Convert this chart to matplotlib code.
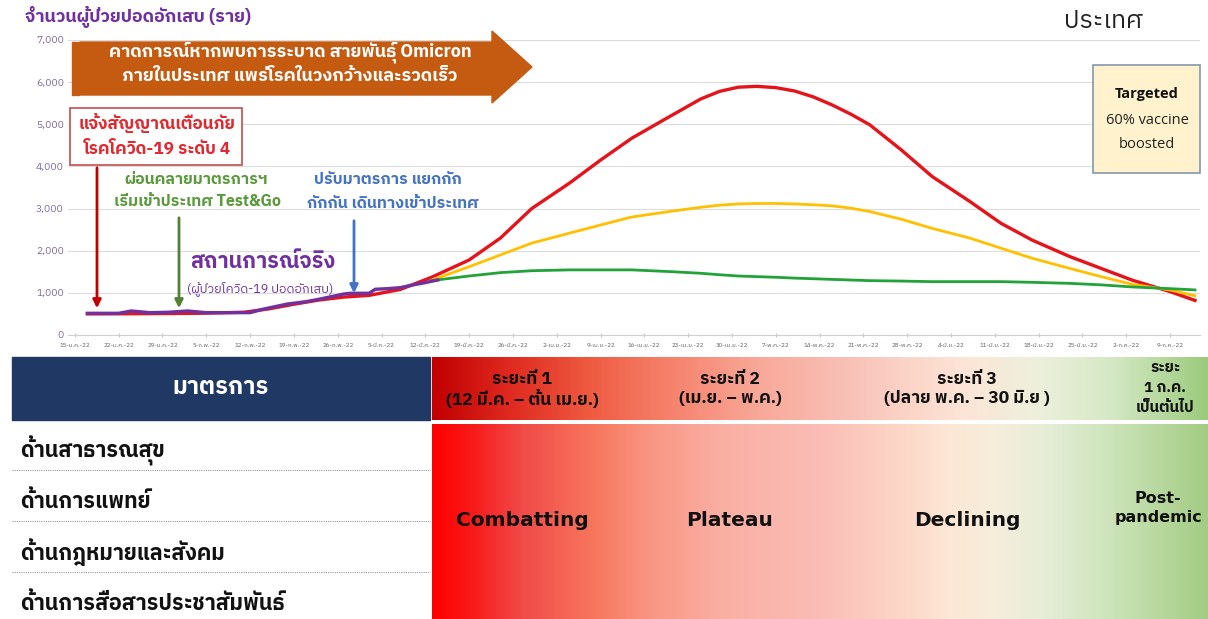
import matplotlib
matplotlib.use("Agg")
import matplotlib.pyplot as plt
from matplotlib import font_manager
from matplotlib.ft2font import FT2Font
from matplotlib.colors import LinearSegmentedColormap
from matplotlib.patches import Rectangle, Polygon
import numpy as np

# look for installed fonts that have Thai glyphs, prefer one with a bold face
thai = {}
for f in font_manager.fontManager.ttflist:
    try:
        if 0x0E01 in FT2Font(f.fname).get_charmap():
            thai.setdefault(f.name, set()).add(str(f.weight))
    except Exception:
        pass
bold_w = {"bold", "700", "800", "semibold", "600", "demibold", "heavy", "900", "extra bold"}
names = sorted(thai, key=lambda n: (not (thai[n] & bold_w), "Sans" not in n, "Mono" in n))
fams = names[:1] + ["DejaVu Sans"]
plt.rcParams["font.family"] = fams

# ---- data (days after 15 Jan 2022) ----
tick_days = list(range(0, 176, 7))
tick_labels = ["15-ม.ค.-22", "22-ม.ค.-22", "29-ม.ค.-22", "5-ก.พ.-22", "12-ก.พ.-22", "19-ก.พ.-22",
               "26-ก.พ.-22", "5-มี.ค.-22", "12-มี.ค.-22", "19-มี.ค.-22", "26-มี.ค.-22", "2-เม.ย.-22",
               "9-เม.ย.-22", "16-เม.ย.-22", "23-เม.ย.-22", "30-เม.ย.-22", "7-พ.ค.-22", "14-พ.ค.-22",
               "21-พ.ค.-22", "28-พ.ค.-22", "4-มิ.ย.-22", "11-มิ.ย.-22", "18-มิ.ย.-22", "25-มิ.ย.-22",
               "2-ก.ค.-22", "9-ก.ค.-22"]

actual_days = [2, 7, 9, 12, 15, 18, 21, 24, 28, 30, 32, 34, 37, 39, 41, 43, 44, 47, 48, 50, 52, 54, 56, 58]
actual = [515, 515, 570, 530, 540, 570, 530, 530, 530, 610, 673, 736, 792, 848, 911, 974, 990, 990,
          1085, 1100, 1124, 1188, 1243, 1306]

fc_days = [57, 63, 68, 73, 79, 84, 89, 95, 100, 103, 106, 109, 112, 115, 118, 121, 124, 127, 132,
           137, 143, 148, 153, 159, 164, 169, 175, 179]
red_early_days = [2, 10, 20, 27, 31, 35, 39, 43, 47, 52]
red_early = [500, 505, 515, 540, 620, 730, 830, 900, 940, 1080]
red = [1370, 1780, 2300, 3000, 3600, 4150, 4670, 5180, 5600, 5780, 5880, 5900, 5870, 5790, 5650,
       5460, 5240, 4990, 4400, 3760, 3170, 2650, 2250, 1860, 1580, 1300, 1030, 820]
yellow = [1300, 1620, 1900, 2180, 2415, 2610, 2800, 2930, 3030, 3080, 3110, 3120, 3120, 3110, 3090,
          3065, 3010, 2930, 2750, 2530, 2300, 2060, 1820, 1580, 1385, 1200, 1070, 930]
green = [1290, 1400, 1480, 1525, 1545, 1545, 1545, 1505, 1465, 1430, 1400, 1385, 1370, 1350, 1335,
         1320, 1305, 1290, 1280, 1266, 1266, 1266, 1250, 1225, 1190, 1140, 1100, 1070]

measures = ["ด้านสาธารณสุข", "ด้านการแพทย์", "ด้านกฎหมายและสังคม", "ด้านการสื่อสารประชาสัมพันธ์"]
phase_heads = [["ระยะที่ 1", "(12 มี.ค. – ต้น เม.ย.)"], ["ระยะที่ 2", "(เม.ย. – พ.ค.)"],
               ["ระยะที่ 3", "(ปลาย พ.ค. – 30 มิ.ย )"], ["ระยะ", "1 ก.ค.", "เป็นต้นไป"]]
phase_names = ["Combatting", "Plateau", "Declining", "Post-\npandemic"]

W, H = 1208, 619
fig = plt.figure(figsize=(W / 100, H / 100), dpi=100)

# ---- main chart ----
ax = fig.add_axes([68 / W, (H - 335) / H, (1200 - 68) / W, (335 - 40) / H])
ax.set_xlim(-1.1, 179.8)
ax.set_ylim(0, 7000)
ax.set_yticks(range(0, 7001, 1000))
ax.set_yticklabels([f"{v:,}" for v in range(0, 7001, 1000)], fontsize=7.5, color="#7E6A9C")
ax.set_xticks(tick_days)
ax.set_xticklabels(tick_labels, fontsize=4.4, color="#606060")
ax.grid(axis="y", color="#DCDCDC", lw=0.8)
ax.set_axisbelow(True)
for s in ["top", "right", "left"]:
    ax.spines[s].set_visible(False)
ax.spines["bottom"].set_color("#D0D0D0")
ax.tick_params(axis="y", length=0, pad=3)
ax.tick_params(axis="x", length=3, direction="inout", color="#C8C8C8", pad=4)

ax.plot(red_early_days + fc_days, red_early + red, color="#E5141B", lw=2.4, zorder=3)
ax.plot(fc_days, yellow, color="#FFC000", lw=2.0, zorder=3)
ax.plot(fc_days, green, color="#22A33A", lw=2.0, zorder=3)
ax.plot(actual_days, actual, color="#7030A0", lw=2.4, zorder=4)

# ---- overlay in pixel coords ----
ov = fig.add_axes([0, 0, 1, 1], zorder=5)
ov.axis("off")
ov.patch.set_alpha(0)

ov.text(25, 17, "จำนวนผู้ป่วยปอดอักเสบ (ราย)", fontsize=13, color="#7030A0", fontweight="bold",
        va="center", ha="left")
ov.text(1103, 22, "ประเทศ", fontsize=18, color="#222222", ha="center", va="center")

# omicron arrow
brown = "#C55A11"
ov.add_patch(Polygon([(80, 42), (492, 42), (492, 31), (532, 67), (492, 103), (492, 95), (80, 95)],
                     closed=True, color=brown, zorder=2))
ov.add_patch(Rectangle((72, 42), 2.5, 53, color=brown, zorder=2))
ov.add_patch(Rectangle((76, 42), 2.5, 53, color=brown, zorder=2))
ov.text(290, 52, "คาดการณ์หากพบการระบาด สายพันธุ์ Omicron", fontsize=13, color="white",
        fontweight="bold", ha="center", va="center", zorder=3)
ov.text(290, 76, "ภายในประเทศ แพร่โรคในวงกว้างและรวดเร็ว", fontsize=13, color="white",
        fontweight="bold", ha="center", va="center", zorder=3)

# targeted box
ov.add_patch(Rectangle((1093, 65), 107, 108, facecolor="#FFF2CC", edgecolor="#8497B0", lw=1.2))
ov.text(1147, 94, "Targeted", fontsize=10.5, fontweight="bold", ha="center", va="center",
        color="#111111", family="Open Sans")
ov.text(1147, 120, "60% vaccine", fontsize=10.5, ha="center", va="center", color="#222222",
        family="Open Sans")
ov.text(1147, 145, "boosted", fontsize=10.5, ha="center", va="center", color="#222222",
        family="Open Sans")

# red alert box + arrow
ov.add_patch(Rectangle((70, 108), 172, 57, facecolor="white", edgecolor="#C0504D", lw=1.2))
ov.text(157, 123, "แจ้งสัญญาณเตือนภัย", fontsize=12.3, color="#E0282E", fontweight="bold",
        ha="center", va="center")
ov.text(157, 149, "โรคโควิด-19 ระดับ 4", fontsize=12.3, color="#E0282E", fontweight="bold",
        ha="center", va="center")
ov.annotate("", xy=(97, 311), xytext=(97, 165),
            arrowprops=dict(arrowstyle="-|>", color="#C00000", lw=2, mutation_scale=12))

# green note + arrow
ov.text(196, 179, "ผ่อนคลายมาตรการฯ", fontsize=11.5, color="#5B9A3C", fontweight="bold",
        ha="center", va="center")
ov.text(198, 202, "เริ่มเข้าประเทศ Test&Go", fontsize=11.5, color="#5B9A3C", fontweight="bold",
        ha="center", va="center")
ov.annotate("", xy=(179, 311), xytext=(179, 215),
            arrowprops=dict(arrowstyle="-|>", color="#548235", lw=2, mutation_scale=12))

# blue note + arrow
ov.text(388, 179, "ปรับมาตรการ แยกกัก", fontsize=11.5, color="#4472C4", fontweight="bold",
        ha="center", va="center")
ov.text(393, 203, "กักกัน เดินทางเข้าประเทศ", fontsize=11.5, color="#4472C4", fontweight="bold",
        ha="center", va="center")
ov.annotate("", xy=(354, 296), xytext=(354, 218),
            arrowprops=dict(arrowstyle="-|>", color="#4472C4", lw=2, mutation_scale=12))

ov.text(263, 262, "สถานการณ์จริง", fontsize=15.5, color="#7030A0", fontweight="bold",
        ha="center", va="center")
ov.text(260, 289, "(ผู้ป่วยโควิด-19 ปอดอักเสบ)", fontsize=9, color="#7030A0",
        ha="center", va="center")

# ---- bottom table ----
ov.add_patch(Rectangle((12, 357), 418, 63, color="#203864"))
ov.text(221, 388, "มาตรการ", fontsize=17, color="white", fontweight="bold", ha="center", va="center")

head_cmap = LinearSegmentedColormap.from_list("head", [
    (0.0, "#C00000"), (0.1, "#E02A20"), (0.2, "#EE5A40"), (0.3, "#F5806A"), (0.42, "#F8A898"),
    (0.55, "#F9C4BA"), (0.68, "#FDE4D6"), (0.78, "#EEF0DC"), (0.88, "#D4E8C4"), (1.0, "#9CCB7C")])
body_cmap = LinearSegmentedColormap.from_list("body", [
    (0.0, "#FF0000"), (0.05, "#F81A1A"), (0.113, "#F04A48"), (0.211, "#F7785E"), (0.276, "#F99482"),
    (0.372, "#FAAFA3"), (0.503, "#FBBDB6"), (0.599, "#FCD5C6"), (0.665, "#FDE6D5"),
    (0.729, "#F6EEDC"), (0.794, "#E5EDD6"), (0.858, "#D3E6C2"), (0.923, "#BDDBA5"), (1.0, "#A4CC85")])
grad = np.linspace(0, 1, 512)[None, :]
ov.imshow(grad, cmap=head_cmap, aspect="auto", extent=(432, W, 420, 357), zorder=1)
ov.imshow(grad, cmap=body_cmap, aspect="auto", extent=(432, W, 619, 424), zorder=1)
ov.set_xlim(0, W)
ov.set_ylim(H, 0)

head_x = [522, 730, 967, 1165]
for x, lines in zip(head_x, phase_heads):
    if len(lines) == 3:
        ys, fs = [368, 388, 408], 11
    else:
        ys, fs = [379, 398], 12.5
    for y, t in zip(ys, lines):
        ov.text(x, y, t, fontsize=fs, fontweight="bold", ha="center", va="center",
                color="#111111", zorder=3)

for x, t in zip(head_x[:3], phase_names[:3]):
    ov.text(x, 520, t, fontsize=14.5, fontweight="bold", ha="center", va="center",
            color="#111111", zorder=3, family="DejaVu Sans")
ov.text(1158, 508, phase_names[3], fontsize=11.5, fontweight="bold", ha="center", va="center",
        color="#111111", linespacing=1.3, zorder=3, family="DejaVu Sans")

row_y = [451, 501, 552, 603]
for y, t in zip(row_y, measures):
    ov.text(20, y, t, fontsize=15.5, fontweight="bold", ha="left", va="center", color="#111111")
for y in [470, 521, 572]:
    ov.plot([12, 430], [y, y], color="#999999", lw=0.8, ls=(0, (1, 1)))

fig.savefig("out.png", dpi=100)
